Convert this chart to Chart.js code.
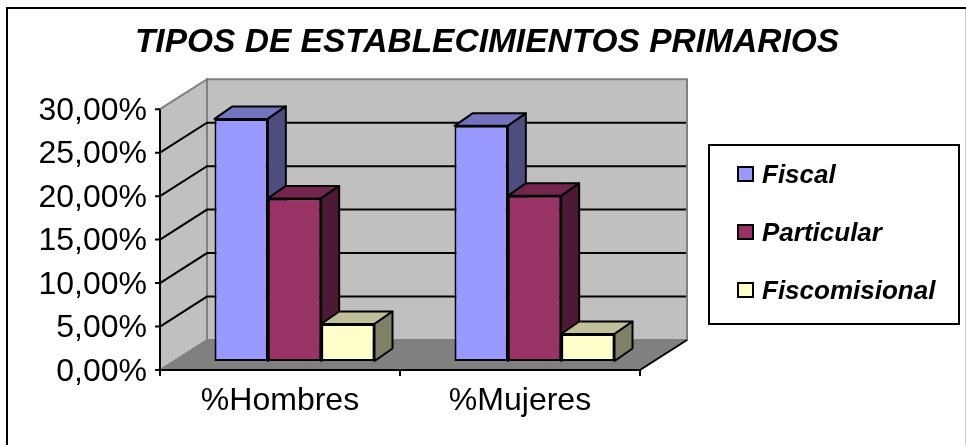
<!DOCTYPE html>
<html><head><meta charset="utf-8">
<style>html,body{margin:0;padding:0;background:#fff}canvas{display:block}#w{width:966px;height:445px;position:relative}</style>
<script src="https://cdn.jsdelivr.net/npm/chart.js@4"></script></head>
<body><div id="w"><canvas id="c" width="966" height="445"></canvas></div>
<script>
const categories = ['%Hombres', '%Mujeres'];
const seriesNames = ['Fiscal', 'Particular', 'Fiscomisional'];
const fiscal = [27.85, 27.05];
const particular = [18.7, 19.0];
const fiscomisional = [4.25, 3.1];
const frontColors = ['#9999FF', '#993366', '#FFFFCC'];
const sideColors = ['#4D4D80', '#4D1A33', '#808066'];
const topColors = ['#7373BF', '#73264D', '#BFBF99'];
const titleText = 'TIPOS DE ESTABLECIMIENTOS PRIMARIOS';
const depthX = 47, depthY = 30, shiftX = 14.5, shiftY = 9, barDX = 18, barDY = 12.5;
const sans = '"Liberation Sans", Arial, sans-serif';

const scene = {
  id: 'scene',
  afterLayout(chart) {
    chart.titleBlock.left = 8; chart.titleBlock.right = 966;
  },
  beforeDraw(chart) {
    const ctx = chart.ctx, a = chart.chartArea, y = chart.scales.y;
    // digits sit slightly above the middle baseline: nudge the tick labels onto their tick
    y.getLabelItems().forEach(it => {
      if (!it.nudged) { it.options.translation[1] += 2; it.nudged = true; }
    });
    ctx.save();
    ctx.fillStyle = '#fff'; ctx.fillRect(0, 0, 966, 445);
    // outer frame
    ctx.strokeStyle = '#000'; ctx.lineWidth = 2;
    ctx.beginPath(); ctx.moveTo(7, 445); ctx.lineTo(7, 8); ctx.lineTo(966, 8); ctx.stroke();
    ctx.fillStyle = '#c8c8c8'; ctx.fillRect(965, 9, 1, 436);
    // walls
    ctx.lineWidth = 2; ctx.lineJoin = 'miter';
    ctx.fillStyle = '#C0C0C0'; ctx.strokeStyle = '#808080';
    ctx.beginPath();
    ctx.rect(a.left + depthX, a.top - depthY, a.right - a.left, a.bottom - a.top);
    ctx.fill(); ctx.stroke();
    ctx.beginPath();
    ctx.moveTo(a.left, a.top); ctx.lineTo(a.left + depthX, a.top - depthY);
    ctx.lineTo(a.left + depthX, a.bottom - depthY); ctx.lineTo(a.left, a.bottom); ctx.closePath();
    ctx.fill(); ctx.stroke();
    ctx.fillStyle = '#808080';
    ctx.beginPath();
    ctx.moveTo(a.left, a.bottom); ctx.lineTo(a.left + depthX, a.bottom - depthY);
    ctx.lineTo(a.right + depthX, a.bottom - depthY); ctx.lineTo(a.right, a.bottom); ctx.closePath();
    ctx.fill();
    // grid on both walls
    ctx.strokeStyle = '#000'; ctx.lineWidth = 2;
    y.ticks.forEach(t => {
      if (t.value === 0 || t.value === 30) return;
      const p = y.getPixelForValue(t.value);
      ctx.beginPath();
      ctx.moveTo(a.left, p); ctx.lineTo(a.left + depthX, p - depthY);
      ctx.lineTo(a.right + depthX - 1, p - depthY); ctx.stroke();
    });
    // axes and tick marks
    ctx.beginPath();
    ctx.moveTo(a.left, a.top); ctx.lineTo(a.left, a.bottom); ctx.lineTo(a.right, a.bottom);
    ctx.stroke();
    ctx.beginPath();
    ctx.moveTo(a.right, a.bottom); ctx.lineTo(a.right + depthX, a.bottom - depthY); ctx.stroke();
    ctx.beginPath();
    y.ticks.forEach(t => { const p = y.getPixelForValue(t.value); ctx.moveTo(a.left - 5, p); ctx.lineTo(a.left, p); });
    [a.left, (a.left + a.right) / 2, a.right].forEach(v => { ctx.moveTo(v, a.bottom); ctx.lineTo(v, a.bottom + 6); });
    ctx.stroke();
    // legend box
    ctx.fillStyle = '#fff'; ctx.strokeStyle = '#000'; ctx.lineWidth = 2;
    ctx.fillRect(709, 145, 250, 179); ctx.strokeRect(709, 145, 250, 179);
    ctx.restore();
  },
  beforeDatasetsDraw(chart) {
    const ctx = chart.ctx;
    ctx.save();
    ctx.translate(shiftX, -shiftY);
    ctx.lineWidth = 2; ctx.strokeStyle = '#000'; ctx.lineJoin = 'round';
    categories.forEach((c, i) => {
      chart.data.datasets.forEach((d, k) => {
        const b = chart.getDatasetMeta(k).data[i];
        const L = b.x - b.width / 2, R = b.x + b.width / 2, T = b.y, B = b.base;
        ctx.fillStyle = topColors[k];
        ctx.beginPath();
        ctx.moveTo(L, T); ctx.lineTo(L + barDX, T - barDY); ctx.lineTo(R + barDX, T - barDY); ctx.lineTo(R, T); ctx.closePath();
        ctx.fill(); ctx.stroke();
        ctx.fillStyle = sideColors[k];
        ctx.beginPath();
        ctx.moveTo(R, T); ctx.lineTo(R + barDX, T - barDY); ctx.lineTo(R + barDX, B - barDY); ctx.lineTo(R, B); ctx.closePath();
        ctx.fill(); ctx.stroke();
      });
    });
  },
  afterDatasetsDraw(chart) { chart.ctx.restore(); }
};

new Chart(document.getElementById('c'), {
  type: 'bar',
  data: {
    labels: categories,
    datasets: [fiscal, particular, fiscomisional].map((v, i) => ({
      label: seriesNames[i], data: v,
      backgroundColor: frontColors[i], borderColor: '#000', borderWidth: 2, borderSkipped: false,
      categoryPercentage: 2 / 3, barPercentage: 1
    }))
  },
  options: {
    responsive: false, animation: false, devicePixelRatio: 1,
    layout: { padding: { left: 0, right: 326, top: 0, bottom: 0 } },
    scales: {
      y: {
        min: 0, max: 30, position: 'left',
        afterFit(s) { s.width = 160; },
        ticks: { stepSize: 5, color: '#000', padding: 5,
          font: { family: sans, size: 32 },
          callback: v => v.toFixed(2).replace('.', ',') + '%' },
        grid: { display: false }, border: { display: false }
      },
      x: {
        afterFit(s) { s.height = 75; },
        ticks: { color: '#000', font: { family: sans, size: 32 }, padding: 4 },
        grid: { display: false }, border: { display: false }
      }
    },
    plugins: {
      title: { display: true, text: titleText, color: '#000',
        font: { family: sans, size: 33.5, weight: 'bold', style: 'italic' },
        padding: { top: 23, bottom: 46 }, align: 'center', fullSize: true },
      legend: { display: false },
      tooltip: { enabled: false }
    }
  },
  plugins: [scene, {
    id: 'legendBox',
    afterDraw(chart) {
      const ctx = chart.ctx; ctx.save();
      const ys = [174, 232, 290];
      seriesNames.forEach((n, i) => {
        ctx.fillStyle = frontColors[i]; ctx.strokeStyle = '#000'; ctx.lineWidth = 2;
        ctx.fillRect(738, ys[i] - 7, 15, 14); ctx.strokeRect(738, ys[i] - 7, 15, 14);
        ctx.fillStyle = '#000'; ctx.textBaseline = 'middle'; ctx.textAlign = 'left';
        ctx.font = 'italic bold 26px ' + sans;
        ctx.fillText(n, 762, ys[i] + 2);
      });
      ctx.restore();
    }
  }]
});
</script></body></html>
